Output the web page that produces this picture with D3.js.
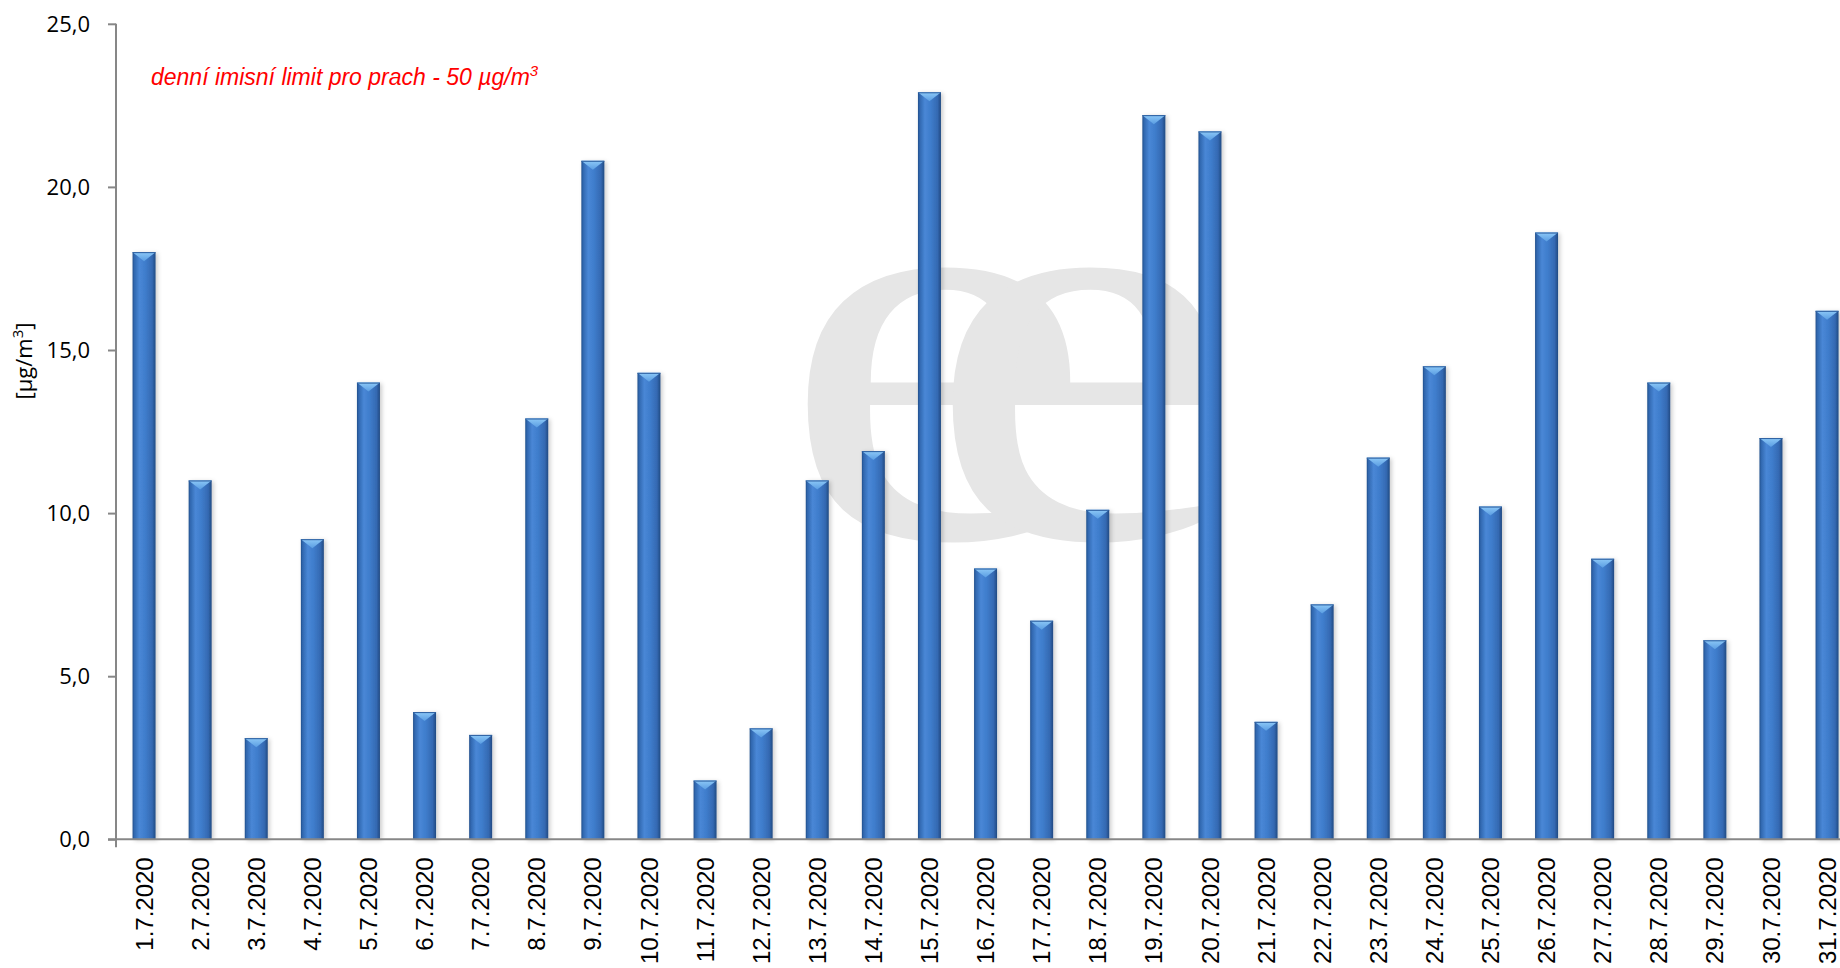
<!DOCTYPE html>
<html>
<head>
<meta charset="utf-8">
<script src="https://cdn.jsdelivr.net/npm/d3@7/dist/d3.min.js"></script>
<style>
  html, body { margin: 0; padding: 0; background: #ffffff; }
  svg { display: block; }
</style>
</head>
<body>
<svg id="chart" width="1840" height="968"></svg>
<script>
// ---- data ----
const categories = ["1.7.2020","2.7.2020","3.7.2020","4.7.2020","5.7.2020","6.7.2020","7.7.2020","8.7.2020","9.7.2020","10.7.2020",
  "11.7.2020","12.7.2020","13.7.2020","14.7.2020","15.7.2020","16.7.2020","17.7.2020","18.7.2020","19.7.2020","20.7.2020",
  "21.7.2020","22.7.2020","23.7.2020","24.7.2020","25.7.2020","26.7.2020","27.7.2020","28.7.2020","29.7.2020","30.7.2020","31.7.2020"];
const values = [18.0, 11.0, 3.1, 9.2, 14.0, 3.9, 3.2, 12.9, 20.8, 14.3,
  1.8, 3.4, 11.0, 11.9, 22.9, 8.3, 6.7, 10.1, 22.2, 21.7,
  3.6, 7.2, 11.7, 14.5, 10.2, 18.6, 8.6, 14.0, 6.1, 12.3, 16.2];
const yTicks = [0, 5, 10, 15, 20, 25];
const yTitle = "[µg/m";
const noteText = "denní imisní limit pro prach - 50 µg/m";

const svg = d3.select("#chart");
const W = 1840, H = 968;
const left = 116, zeroY = 839.3, topY = 23.8, step = 56.1;

const x = d3.scaleBand().domain(categories)
  .range([left, left + step * categories.length])
  .paddingInner(0.59).paddingOuter(0.295);
const y = d3.scaleLinear().domain([0, 25]).range([zeroY, topY]);

// ---- defs ----
const defs = svg.append("defs");
const grad = defs.append("linearGradient").attr("id", "barGrad")
  .attr("x1", "0%").attr("x2", "100%").attr("y1", "0%").attr("y2", "0%");
[[0, "#22508c"], [0.08, "#3168b0"], [0.3, "#4987d6"], [0.55, "#3f7dcc"], [0.85, "#3469b2"], [1, "#214a82"]]
  .forEach(([o, c]) => grad.append("stop").attr("offset", o).attr("stop-color", c));
const capGrad = defs.append("linearGradient").attr("id", "capGrad")
  .attr("x1", "0%").attr("x2", "0%").attr("y1", "0%").attr("y2", "100%");
[[0, "#8cc8f7"], [1, "#5a9de2"]].forEach(([o, c]) => capGrad.append("stop").attr("offset", o).attr("stop-color", c));
const shadow = defs.append("filter").attr("id", "shadow").attr("x", "-50%").attr("y", "-5%").attr("width", "200%").attr("height", "110%");
shadow.append("feDropShadow").attr("dx", 2).attr("dy", 1).attr("stdDeviation", 2)
  .attr("flood-color", "#000").attr("flood-opacity", 0.2);

// ---- watermark (two overlapping serif "e" in one text) ----
const sx = 1.24;
const wm = svg.append("text").attr("fill", "#e6e6e6").attr("font-family", "Liberation Serif, serif")
  .attr("font-size", 572).attr("transform", `translate(0,537) scale(${sx},1)`);
wm.append("tspan").attr("x", 780 / sx).attr("y", 0).text("e");
wm.append("tspan").attr("x", 925 / sx).attr("y", 0).text("e");

// ---- y axis ----
const yAxis = d3.axisLeft(y).tickValues(yTicks).tickSize(8).tickPadding(18)
  .tickFormat(d => d3.format(".1f")(d).replace(".", ","));
const gy = svg.append("g").attr("transform", `translate(${left},0)`).call(yAxis);
gy.select(".domain").remove();
gy.selectAll(".tick line").attr("stroke", "#878787").attr("stroke-width", 2);
gy.selectAll(".tick text").attr("font-family", "Open Sans, sans-serif").attr("font-size", 22)
  .attr("fill", "#000").attr("dy", "0.34em");
svg.append("line").attr("x1", left).attr("x2", left).attr("y1", topY).attr("y2", zeroY + 8)
  .attr("stroke", "#878787").attr("stroke-width", 2);

// ---- bars ----
const bw = x.bandwidth();
const bars = svg.append("g").selectAll("g.bar").data(values).join("g").attr("class", "bar");
bars.append("rect")
  .attr("x", (d, i) => x(categories[i]))
  .attr("y", d => y(d))
  .attr("width", bw)
  .attr("height", d => zeroY - y(d))
  .attr("fill", "url(#barGrad)")
  .attr("filter", "url(#shadow)");
bars.append("path")
  .attr("d", (d, i) => {
    const x0 = x(categories[i]), yt = y(d), cap = 9;
    return `M${x0},${yt}L${x0 + bw},${yt}L${x0 + bw / 2},${yt + cap}Z`;
  })
  .attr("fill", "url(#capGrad)");
bars.append("line")
  .attr("x1", (d, i) => x(categories[i])).attr("x2", (d, i) => x(categories[i]) + bw)
  .attr("y1", d => y(d) + 0.5).attr("y2", d => y(d) + 0.5)
  .attr("stroke", "#2b5d9e").attr("stroke-width", 1);

// ---- x axis ----
const xAxis = d3.axisBottom(x).tickSize(0).tickPadding(0);
const gx = svg.append("g").attr("transform", `translate(0,${zeroY})`).call(xAxis);
gx.select(".domain").remove();
gx.selectAll(".tick text")
  .attr("font-family", "Liberation Sans, Arial, sans-serif").attr("font-size", 24).attr("fill", "#000")
  .attr("text-anchor", "end")
  .attr("transform", "translate(0,18) rotate(-90)")
  .attr("x", 0).attr("y", 0).attr("dy", "0.36em");
svg.append("line").attr("x1", left - 8).attr("x2", W).attr("y1", zeroY).attr("y2", zeroY)
  .attr("stroke", "#878787").attr("stroke-width", 2);

// ---- y title ----
const yt = svg.append("text").attr("transform", "translate(32,361) rotate(-90)")
  .attr("text-anchor", "middle").attr("font-family", "Open Sans, sans-serif").attr("font-size", 22).attr("fill", "#000");
yt.append("tspan").text(yTitle);
yt.append("tspan").attr("font-size", 15).attr("dy", -9).text("3");
yt.append("tspan").attr("dy", 9).text("]");

// ---- note ----
const note = svg.append("text").attr("x", 151).attr("y", 85)
  .attr("font-family", "Liberation Sans, Arial, sans-serif").attr("font-style", "italic")
  .attr("font-size", 23).attr("fill", "#ff0000");
note.append("tspan").text(noteText);
note.append("tspan").attr("font-size", 15).attr("dy", -9).text("3");
</script>
</body>
</html>
